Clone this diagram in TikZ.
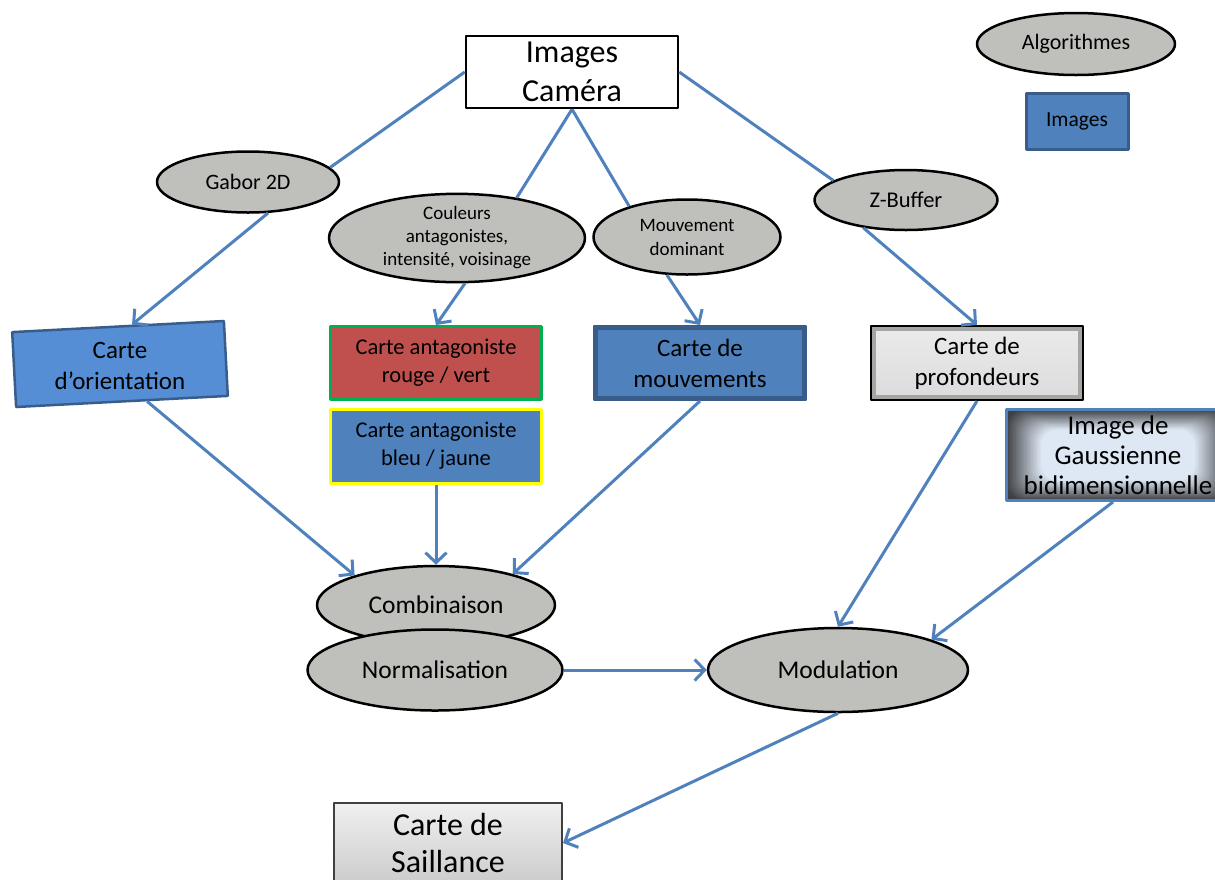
\documentclass[tikz,border=0pt]{standalone}
\usepackage{fontspec}
\setmainfont{Carlito}
\usetikzlibrary{arrows.meta,shapes.geometric}
\definecolor{algofill}{RGB}{191,192,188}
\definecolor{imgblue}{RGB}{79,129,189}
\definecolor{imgedge}{RGB}{56,93,138}
\definecolor{orientblue}{RGB}{85,142,213}
\definecolor{antared}{RGB}{192,80,77}
\definecolor{antagreen}{RGB}{0,176,80}
\definecolor{antayellow}{RGB}{255,255,0}
\definecolor{linkblue}{RGB}{79,129,189}
\definecolor{gaussin}{RGB}{222,232,244}
\definecolor{gaussout}{RGB}{62,64,68}
\definecolor{bevelgrey}{RGB}{165,166,162}
\tikzset{
    algo/.style={
        ellipse, draw=black, line width=2.5pt, fill=algofill,
        inner sep=0pt, align=center
    },
    carte/.style={
        rectangle, inner sep=0pt, align=center,
        font=\fontsize{25}{31}\selectfont
    },
    link/.style={draw=linkblue, line width=3pt},
    arr/.style={link, -{Straight Barb[length=10pt,width=21pt]}}
}

\begin{document}
\begin{tikzpicture}[x=1pt,y=-1pt,line join=round]

% --- page frame (pixel coordinates of the reference) ---
    \useasboundingbox (0,0) rectangle (1215,879);

% source images
    \node[carte, draw=black, line width=2.5pt, fill=white,
          minimum width=212pt, minimum height=72pt,
          font=\fontsize{32}{39}\selectfont] (cam) at (572,72) {Images\\Caméra};

% legend (top right)
    \node[algo, minimum width=198pt, minimum height=62pt,
          font=\fontsize{22}{26}\selectfont] (legalgo) at (1076,44) {Algorithmes};
    \node[carte, fill=imgblue, draw=imgedge, line width=3pt,
          minimum width=102pt, minimum height=56pt,
          font=\fontsize{21.5}{26}\selectfont] (legimg) at (1077,121) {Images};

% first row of algorithms
    \node[algo, minimum width=182pt, minimum height=61pt,
          font=\fontsize{22}{26}\selectfont] (gabor) at (248,182) {Gabor 2D};
    \node[algo, minimum width=256pt, minimum height=85pt,
          font=\fontsize{19}{23}\selectfont] (coul) at (457,238)
          {Couleurs\\antagonistes,\\intensité, voisinage};
    \node[algo, minimum width=187pt, minimum height=75pt,
          font=\fontsize{19}{24}\selectfont] (mvt) at (687,237) {Mouvement\\dominant};
    \node[algo, minimum width=183pt, minimum height=60pt,
          font=\fontsize{22.5}{26}\selectfont] (zbuf) at (906,200) {Z-Buffer};

% feature maps (orientation box is tilted, its text is not)
    \node[carte, rotate=3, fill=orientblue, draw=imgedge, line width=2.5pt,
          minimum width=212pt, minimum height=75pt] (orient) at (120,364) {};
    \node[carte] (orientlbl) at ([yshift=-2pt]orient.center) {Carte\\d’orientation};
    \node[carte, fill=antared, draw=antagreen, line width=3pt,
          minimum width=211pt, minimum height=73pt,
          font=\fontsize{22.5}{28}\selectfont] (rv) at (436,363)
          {Carte antagoniste\\rouge / vert};
    \node[carte, fill=imgblue, draw=antayellow, line width=3pt,
          minimum width=211pt, minimum height=74pt,
          font=\fontsize{22.5}{28}\selectfont] (bj) at (436,446)
          {Carte antagoniste\\bleu / jaune};
    \node[carte, fill=imgblue, draw=imgedge, line width=2pt,
          minimum width=212pt, minimum height=74pt,
          path picture={\draw[imgedge, line width=8pt]
            (path picture bounding box.north west) rectangle
            (path picture bounding box.south east);}] (mouv) at (700,363)
          {Carte de\\mouvements};
    \node[carte, top color=white!92!black, bottom color=white!86!black,
          draw=black, line width=2pt,
          minimum width=212pt, minimum height=74pt,
          path picture={\draw[bevelgrey, line width=10pt]
            (path picture bounding box.north west) rectangle
            (path picture bounding box.south east);}] (prof) at (977,363)
          {Carte de\\profondeurs};
    \node[carte, fill=gaussout, draw=imgblue, line width=3pt,
          minimum width=224pt, minimum height=91pt,
          font=\fontsize{27}{30}\selectfont,
          path picture={
            \foreach \k [evaluate=\k as \p using int(4*\k)] in {0,...,25}
              \fill[gaussin!\p!gaussout, rounded corners=16pt]
                ([shift={(1.4*\k,0.8*\k)}]path picture bounding box.north west)
                rectangle
                ([shift={(-1.4*\k,-0.8*\k)}]path picture bounding box.south east);
          }] (gauss) at (1118,455)
          {Image de\\Gaussienne\\bidimensionnelle};

% combination and modulation
    \node[algo, minimum width=238pt, minimum height=78pt,
          font=\fontsize{25.5}{30}\selectfont] (comb) at (436,605) {Combinaison};
    \node[algo, minimum width=255pt, minimum height=81pt,
          font=\fontsize{25.5}{30}\selectfont] (norm) at (435,670) {Normalisation};
    \node[algo, minimum width=260pt, minimum height=84pt,
          font=\fontsize{25.5}{30}\selectfont] (modul) at (838,670) {Modulation};

% result (cut by the bottom edge)
    \node[carte, top color=white!94!black, bottom color=white!80!black,
          draw=black!75, line width=2pt,
          minimum width=228pt, minimum height=80pt,
          font=\fontsize{32}{37}\selectfont] (sail) at (448,843)
          {Carte de\\Saillance};

% links from the camera
    \draw[link] (cam.west) -- (gabor.10);
    \draw[link] (cam.south) -- (coul.34);
    \draw[link] (cam.south) -- (mvt.152);
    \draw[link] (cam.east) -- (zbuf.165);

% algorithm -> map
    \draw[arr] (gabor.-57) -- (orient.70);
    \draw[arr] (coul.-80) -- (rv.north);
    \draw[arr] (mvt.-118) -- (mouv.north);
    \draw[arr] (zbuf.-147) -- (prof.north);

% maps -> combination / modulation
    \draw[arr] (orient.-57) -- (comb.160);
    \draw[arr] (bj.south) -- (comb.north);
    \draw[arr] (mouv.south) -- (comb.22);
    \draw[arr] (prof.south) -- (modul.north);
    \draw[arr] ([xshift=-5pt]gauss.south) -- (modul.18);
    \draw[arr] (norm.east) -- (modul.west);
    \draw[arr] (modul.south) -- (sail.east);

\end{tikzpicture}
\end{document}
